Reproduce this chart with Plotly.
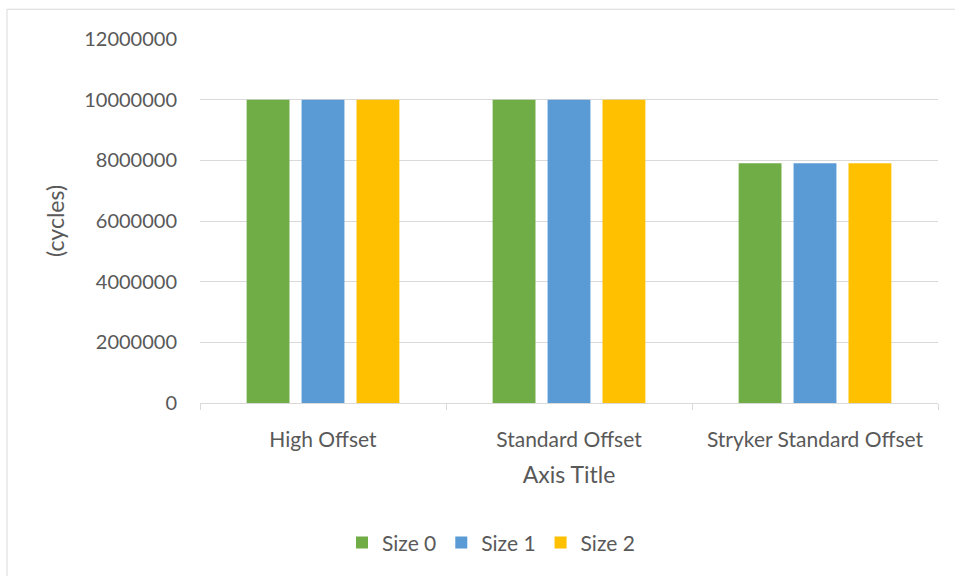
import plotly.graph_objects as go

categories = ["High Offset", "Standard Offset", "Stryker Standard Offset"]
series_names = ["Size 0", "Size 1", "Size 2"]
size0 = [10000000, 10000000, 7900000]
size1 = [10000000, 10000000, 7900000]
size2 = [10000000, 10000000, 7900000]
colors = ["#70AD47", "#5B9BD5", "#FFC000"]
y_ticks = [0, 2000000, 4000000, 6000000, 8000000, 10000000, 12000000]

FONT = "Lato, 'Open Sans', sans-serif"
TXT = "#595959"
W, H = 955, 576
L, R, T, B = 200, 17, 39, 170
pw, ph = W - L - R, H - T - B

fig = go.Figure()
for name, vals, c in zip(series_names, [size0, size1, size2], colors):
    fig.add_trace(go.Bar(x=categories, y=vals, name=name, marker=dict(color=c, line=dict(width=0))))

fig.update_layout(
    width=W, height=H,
    margin=dict(l=L, r=R, t=T, b=B, pad=0),
    paper_bgcolor="white", plot_bgcolor="white",
    barmode="group", bargap=0.33, bargroupgap=0.22,
    font=dict(family=FONT, color=TXT, size=20),
    showlegend=True,
    legend=dict(orientation="h", x=(491 - L) / pw, xanchor="center", y=-(547 - (T + ph)) / ph, yanchor="middle",
                font=dict(size=21, color=TXT), itemwidth=30, traceorder="normal"),
    xaxis=dict(
        showgrid=False, showline=True, linecolor="#D9D9D9", linewidth=1,
        ticks="outside", tickson="boundaries", ticklen=6, tickcolor="#D9D9D9",
        tickfont=dict(size=21, color=TXT), ticklabelstandoff=18,
        title=dict(text="Axis Title", font=dict(size=23, color=TXT), standoff=16),
    ),
    yaxis=dict(
        range=[0, 12000000], tickvals=y_ticks, ticktext=[str(v) for v in y_ticks],
        showgrid=True, gridcolor="#D9D9D9", gridwidth=1, zeroline=False,
        showline=False, ticks="", tickfont=dict(size=20, color=TXT), ticklabelstandoff=22,
        title=dict(text="(cycles)", font=dict(size=23, color=TXT), standoff=13),
    ),
    shapes=[dict(type="rect", xref="paper", yref="paper",
                 x0=(7 - L) / pw, x1=(965 - L) / pw,
                 y0=-(590 - T - ph) / ph, y1=1 + (T - 9) / ph,
                 line=dict(color="#D9D9D9", width=1), fillcolor="rgba(0,0,0,0)", layer="below")],
)
fig.write_html("out.html")
